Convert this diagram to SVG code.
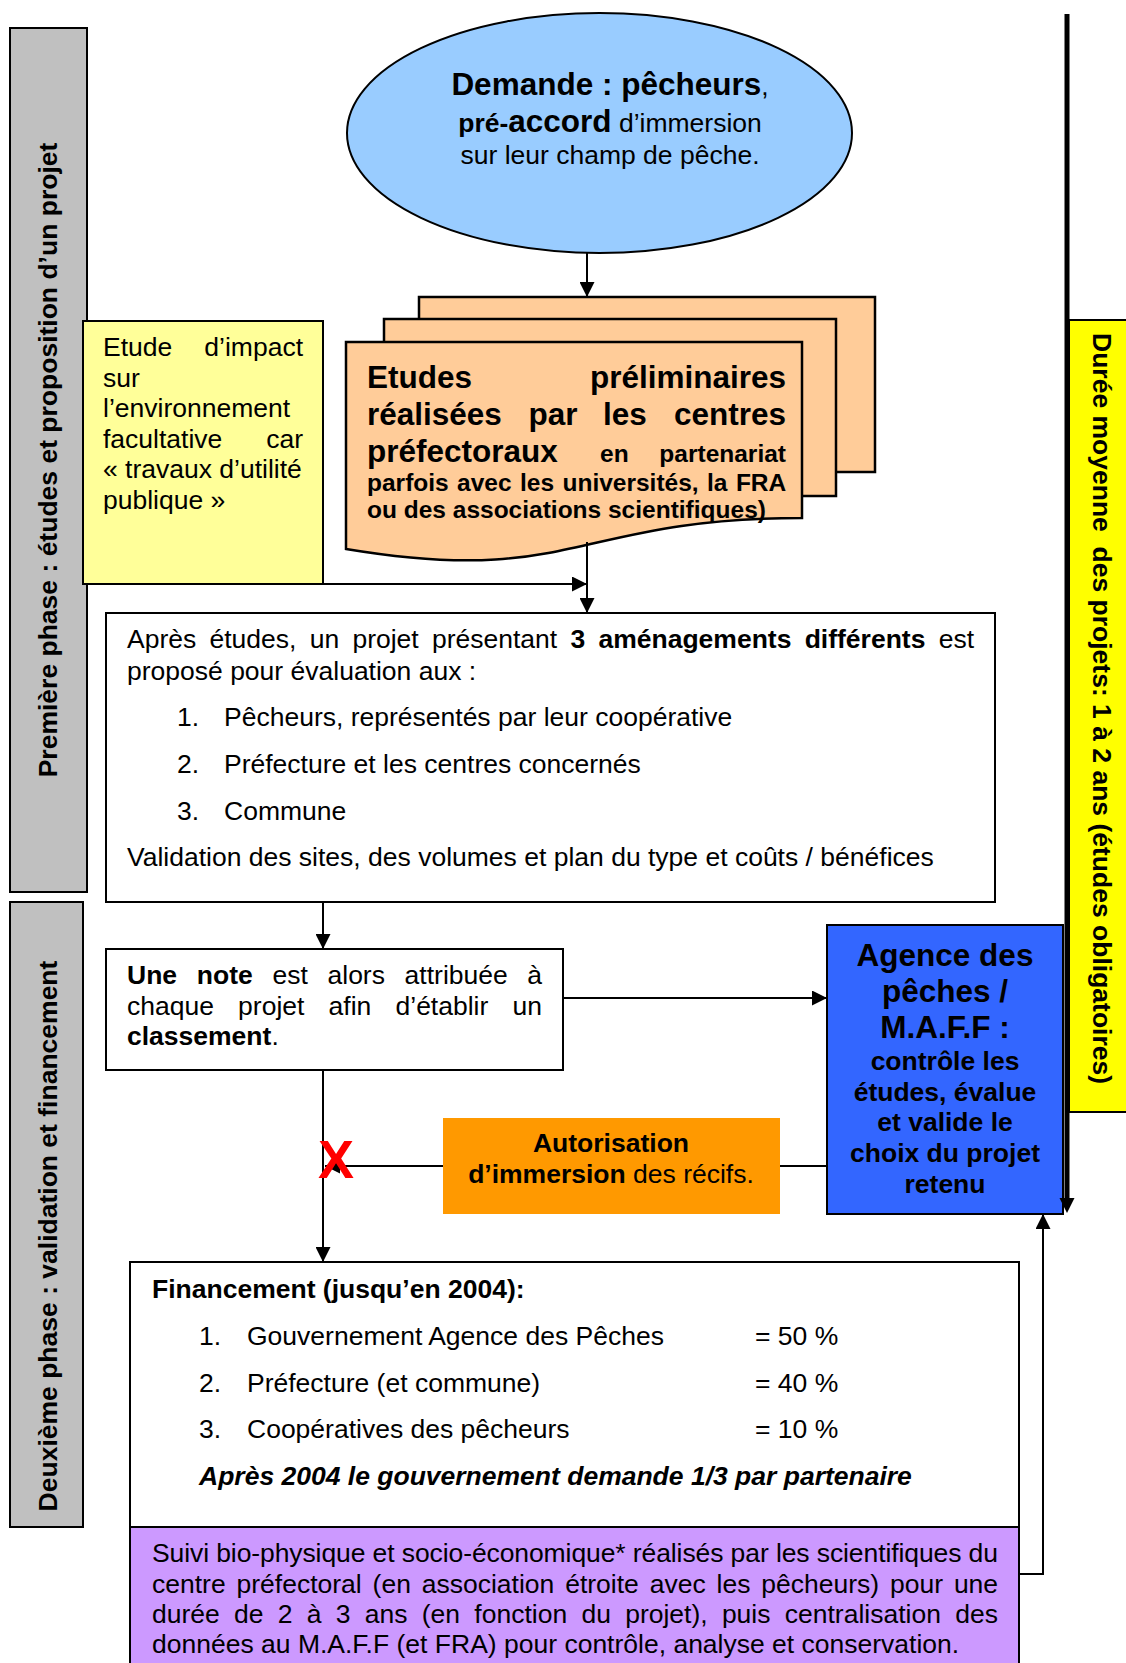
<svg xmlns="http://www.w3.org/2000/svg" width="1126" height="1663" viewBox="0 0 1126 1663">
<defs>
<style>
text{font-family:"Liberation Sans",Arial,sans-serif;fill:#000}
.r{font-size:26.5px}
.b{font-size:26.5px;font-weight:bold}
.B{font-size:31.5px;font-weight:bold}
.s{font-size:24.5px;font-weight:bold}
.box{stroke:#000;stroke-width:2}
.ln{stroke:#000;stroke-width:2;fill:none}
.pg{fill:#FFCC99;stroke:#000;stroke-width:2.5}
</style>
<marker id="ah" viewBox="0 0 15 15" refX="15" refY="7.5" markerWidth="15" markerHeight="15" markerUnits="userSpaceOnUse" orient="auto"><path d="M0,0L15,7.5L0,15z" fill="#000"/></marker>
</defs>
<rect width="1126" height="1663" fill="#fff"/>

<g id="phase1">
<rect x="10" y="28" width="77" height="864" fill="#C0C0C0" class="box"/>
<text class="b" transform="translate(57,460) rotate(-90)" text-anchor="middle">Première phase : études et proposition d’un projet</text>
</g>
<g id="phase2">
<rect x="10" y="902" width="73" height="625" fill="#C0C0C0" class="box"/>
<text class="b" transform="translate(57,1236) rotate(-90)" text-anchor="middle">Deuxième phase : validation et financement</text>
</g>
<g id="duree">
<rect x="1069" y="320" width="62" height="792" fill="#FFFF00" class="box"/>
<text class="b" transform="translate(1093,333) rotate(90)">Durée moyenne&#160; des projets: 1 à 2 ans (études obligatoires)</text>
</g>

<g id="demande">
<ellipse cx="599.5" cy="133" rx="252.5" ry="120" fill="#99CCFF" class="box"/>
<text x="610" y="95" text-anchor="middle"><tspan class="B">Demande : pêcheurs</tspan><tspan class="r">,</tspan></text>
<text x="610" y="132" text-anchor="middle"><tspan class="b">pré-</tspan><tspan class="B">accord</tspan><tspan class="r"> d’immersion</tspan></text>
<text x="610" y="164" text-anchor="middle" class="r">sur leur champ de pêche.</text>
</g>

<g id="etudes">
<rect x="419" y="297" width="456" height="175" class="pg"/>
<rect x="384" y="319" width="452" height="177" class="pg"/>
<path d="M346,342H802V518C574,518 574,587 346,549Z" class="pg"/>
<text class="B" x="367" y="388">Etudes</text>
<text class="B" x="786" y="388" text-anchor="end">préliminaires</text>
<text class="B" x="367" y="425">réalisées</text>
<text class="B" x="528.6" y="425">par</text>
<text class="B" x="603" y="425">les</text>
<text class="B" x="786" y="425" text-anchor="end">centres</text>
<text class="B" x="367" y="462">préfectoraux</text>
<text class="s" x="600" y="462">en</text>
<text class="s" x="786" y="462" text-anchor="end">partenariat</text>
<text class="s" x="367" y="491" word-spacing="1.6">parfois avec les universités, la FRA</text>
<text class="s" x="367" y="518">ou des associations scientifiques)</text>
</g>

<g id="impact">
<rect x="83" y="321" width="240" height="263" fill="#FFFF99" class="box"/>
<text class="r" x="103" y="356">Etude</text>
<text class="r" x="303" y="356" text-anchor="end">d’impact</text>
<text class="r" x="103" y="387">sur</text>
<text class="r" x="103" y="417">l’environnement</text>
<text class="r" x="103" y="448">facultative</text>
<text class="r" x="303" y="448" text-anchor="end">car</text>
<text class="r" x="103" y="478">«&#160;travaux d’utilité</text>
<text class="r" x="103" y="509">publique&#160;»</text>
</g>

<g id="apres">
<rect x="106" y="613" width="889" height="289" fill="#fff" class="box"/>
<text class="r" x="127" y="648" word-spacing="5.9">Après études, un projet présentant <tspan font-weight="bold">3 aménagements différents</tspan> est</text>
<text class="r" x="127" y="680">proposé pour évaluation aux :</text>
<text class="r" x="177" y="726">1.</text><text class="r" x="224" y="726">Pêcheurs, représentés par leur coopérative</text>
<text class="r" x="177" y="773">2.</text><text class="r" x="224" y="773">Préfecture et les centres concernés</text>
<text class="r" x="177" y="820">3.</text><text class="r" x="224" y="820">Commune</text>
<text class="r" x="127" y="866">Validation des sites, des volumes et plan du type et coûts / bénéfices</text>
</g>

<g id="note">
<rect x="106" y="949" width="457" height="121" fill="#fff" class="box"/>
<text class="b" x="127" y="984">Une</text>
<text class="b" x="196.8" y="984">note</text>
<text class="r" x="272.4" y="984">est</text>
<text class="r" x="327.5" y="984">alors</text>
<text class="r" x="404.6" y="984">attribuée</text>
<text class="r" x="542" y="984" text-anchor="end">à</text>
<text class="r" x="127" y="1015">chaque</text>
<text class="r" x="238.1" y="1015">projet</text>
<text class="r" x="328.6" y="1015">afin</text>
<text class="r" x="395.5" y="1015">d’établir</text>
<text class="r" x="542" y="1015" text-anchor="end">un</text>
<text x="127" y="1045"><tspan class="b">classement</tspan><tspan class="r">.</tspan></text>
</g>

<g id="agence">
<rect x="827" y="925" width="236" height="289" fill="#3366FF" class="box"/>
<text class="B" x="945" y="966" text-anchor="middle">Agence des</text>
<text class="B" x="945" y="1002" text-anchor="middle">pêches /</text>
<text class="B" x="945" y="1038" text-anchor="middle">M.A.F.F :</text>
<text class="b" x="945" y="1070" text-anchor="middle">contrôle les</text>
<text class="b" x="945" y="1101" text-anchor="middle">études, évalue</text>
<text class="b" x="945" y="1131" text-anchor="middle">et valide le</text>
<text class="b" x="945" y="1162" text-anchor="middle">choix du projet</text>
<text class="b" x="945" y="1193" text-anchor="middle">retenu</text>
</g>

<g id="autorisation">
<rect x="443" y="1118" width="337" height="96" fill="#FF9900"/>
<text class="b" x="611" y="1152" text-anchor="middle">Autorisation</text>
<text x="611" y="1183" text-anchor="middle"><tspan class="b">d’immersion</tspan><tspan class="r"> des récifs.</tspan></text>
</g>

<g id="financement">
<rect x="130" y="1262" width="889" height="265" fill="#fff" class="box"/>
<text class="b" x="152" y="1298">Financement (jusqu’en 2004):</text>
<text class="r" x="199" y="1345">1.</text><text class="r" x="247" y="1345">Gouvernement Agence des Pêches</text><text class="r" x="755" y="1345">= 50 %</text>
<text class="r" x="199" y="1392">2.</text><text class="r" x="247" y="1392">Préfecture (et commune)</text><text class="r" x="755" y="1392">= 40 %</text>
<text class="r" x="199" y="1438">3.</text><text class="r" x="247" y="1438">Coopératives des pêcheurs</text><text class="r" x="755" y="1438">= 10 %</text>
<text class="b" x="199" y="1485" font-style="italic">Après 2004 le gouvernement demande 1/3 par partenaire</text>
</g>

<g id="suivi">
<rect x="130" y="1527" width="889" height="150" fill="#CC99FF" class="box"/>
<text class="r" x="152" y="1562" textLength="846" lengthAdjust="spacing">Suivi bio-physique et socio-économique* réalisés par les scientifiques du</text>
<text class="r" x="152" y="1593" word-spacing="3.5">centre préfectoral (en association étroite avec les pêcheurs) pour une</text>
<text class="r" x="152" y="1623" word-spacing="6.9">durée de 2 à 3 ans (en fonction du projet), puis centralisation des</text>
<text class="r" x="152" y="1653">données au M.A.F.F (et FRA) pour contrôle, analyse et conservation.</text>
</g>

<g id="connectors">
<line x1="587" y1="253" x2="587" y2="297" class="ln" marker-end="url(#ah)"/>
<line x1="587" y1="542" x2="587" y2="613" class="ln" marker-end="url(#ah)"/>
<line x1="323" y1="584" x2="587" y2="584" class="ln" marker-end="url(#ah)"/>
<line x1="323" y1="902" x2="323" y2="949" class="ln" marker-end="url(#ah)"/>
<line x1="563" y1="998" x2="827" y2="998" class="ln" marker-end="url(#ah)"/>
<line x1="827" y1="1166" x2="780" y2="1166" class="ln"/>
<line x1="443" y1="1166" x2="325" y2="1166" class="ln" marker-end="url(#ah)"/>
<line x1="323" y1="1070" x2="323" y2="1262" class="ln" marker-end="url(#ah)"/>
<polyline points="1019,1574 1043,1574 1043,1214" class="ln" marker-end="url(#ah)"/>
<line x1="1067" y1="14" x2="1067" y2="1200" stroke="#000" stroke-width="5"/>
<polygon points="1059.5,1198 1074.5,1198 1067,1213" fill="#000"/>
<text x="336" y="1178" text-anchor="middle" font-size="54" font-weight="bold" style="fill:#FF0000">X</text>
</g>
</svg>
